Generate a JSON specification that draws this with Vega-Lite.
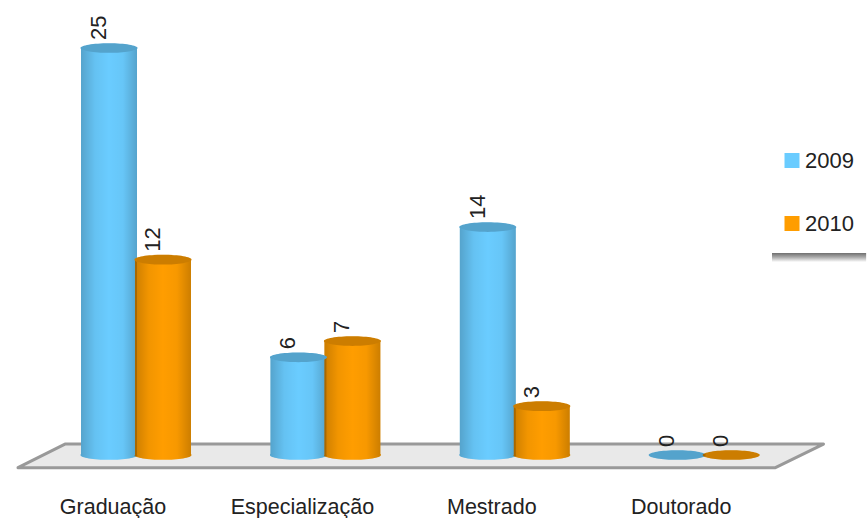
{"$schema":"https://vega.github.io/schema/vega-lite/v6.json","width":867,"height":480,"autosize":{"type":"pad"},"padding":0,"background":"white","config":{"view":{"stroke":null},"font":"Liberation Sans"},
"datasets":{"bars":[{"nivel":"Graduação","ano":"2009","valor":25},{"nivel":"Graduação","ano":"2010","valor":12},{"nivel":"Especialização","ano":"2009","valor":6},{"nivel":"Especialização","ano":"2010","valor":7},{"nivel":"Mestrado","ano":"2009","valor":14},{"nivel":"Mestrado","ano":"2010","valor":3},{"nivel":"Doutorado","ano":"2009","valor":0},{"nivel":"Doutorado","ano":"2010","valor":0}],
"floor":[{"u":-0.623,"top":-0.78,"bottom":-0.78},{"u":-0.375,"top":0.67,"bottom":-0.78},{"u":3.376,"top":0.67,"bottom":-0.78},{"u":3.63,"top":0.67,"bottom":0.67}],
"shadow":[{"u":3.358,"u2":3.855,"top":12.41,"bottom":11.85}]},
"layer":[
{"data":{"name":"floor"},"mark":{"type":"area","fill":"#e9e9e9","stroke":"#999999","strokeWidth":3,"strokeJoin":"round"},"encoding":{"x":{"field":"u","type":"quantitative","axis":null,"scale":{"domain":[0,3],"range":[136,704.2],"nice":false,"zero":false}},"y":{"field":"top","type":"quantitative","axis":null,"scale":{"domain":[0,25],"range":[455,48],"nice":false,"zero":false}},"y2":{"field":"bottom"}}},
{"data":{"name":"shadow"},"mark":{"type":"rect","fill":{"gradient":"linear","x1":0,"y1":0,"x2":0,"y2":1,"stops":[{"offset":0,"color":"#6e6e6e"},{"offset":0.45,"color":"#a8a8a8"},{"offset":1,"color":"#ffffff"}]}},"encoding":{"x":{"field":"u","type":"quantitative","axis":null,"scale":{"domain":[0,3],"range":[136,704.2],"nice":false,"zero":false}},"x2":{"field":"u2"},"y":{"field":"top","type":"quantitative","axis":null,"scale":{"domain":[0,25],"range":[455,48],"nice":false,"zero":false}},"y2":{"field":"bottom"}}},
{"data":{"name":"bars"},
"encoding":{"x":{"field":"nivel","type":"nominal","sort":null,"scale":{"domain":["Graduação","Especialização","Mestrado","Doutorado"],"range":[41.3,798.9],"paddingInner":0.43,"paddingOuter":0.215},"axis":{"title":null,"domain":false,"ticks":false,"labelAngle":0,"labelFontSize":21.5,"labelColor":"#222222","labelPadding":16,"labelOffset":-23,"labelFont":"Liberation Sans"}},"xOffset":{"field":"ano","type":"nominal","scale":{"domain":["2009","2010"]}},"y":{"field":"valor","type":"quantitative","axis":null,"scale":{"domain":[0,25],"range":[455,48],"nice":false,"zero":false}}},
"layer":[
{"transform":[{"filter":"datum.valor > 0"}],"mark":{"type":"point","filled":true,"opacity":1,"shape":"M-1,0A1,0.17,0,1,1,1,0A1,0.17,0,1,1,-1,0Z","size":3249},"encoding":{"y":{"datum":0,"type":"quantitative"},"color":{"field":"ano","type":"nominal","scale":{"domain":["2009","2010"],"range":["#6accff","#ff9d00"]},"legend":{"title":null,"orient":"none","legendX":771,"legendY":139.5,"padding":10,"symbolType":"square","symbolSize":225,"symbolStrokeWidth":0,"symbolOpacity":1,"rowPadding":41,"labelOffset":2,"labelFontSize":22,"labelColor":"#222222","labelFont":"Liberation Sans"}}}},
{"transform":[{"filter":"datum.valor > 0"}],"mark":{"type":"point","filled":true,"opacity":1,"shape":"M-1,0A1,0.17,0,1,1,1,0A1,0.17,0,1,1,-1,0Z","size":3249,"fill":{"gradient":"linear","x1":0,"y1":0,"x2":1,"y2":0,"stops":[{"offset":0,"color":"rgba(0,0,0,0.2)"},{"offset":0.25,"color":"rgba(0,0,0,0.05)"},{"offset":0.5,"color":"rgba(0,0,0,0)"},{"offset":0.75,"color":"rgba(0,0,0,0.03)"},{"offset":1,"color":"rgba(0,0,0,0.2)"}]}},"encoding":{"y":{"datum":0,"type":"quantitative"}}},
{"mark":{"type":"bar","width":56},"encoding":{"y2":{"datum":0},"color":{"field":"ano","type":"nominal"}}},
{"mark":{"type":"bar","width":56,"fill":{"gradient":"linear","x1":0,"y1":0,"x2":1,"y2":0,"stops":[{"offset":0,"color":"rgba(0,0,0,0.2)"},{"offset":0.25,"color":"rgba(0,0,0,0.05)"},{"offset":0.5,"color":"rgba(0,0,0,0)"},{"offset":0.75,"color":"rgba(0,0,0,0.03)"},{"offset":1,"color":"rgba(0,0,0,0.2)"}]}},"encoding":{"y2":{"datum":0}}},
{"mark":{"type":"point","filled":true,"opacity":1,"shape":"M-1,0A1,0.17,0,1,1,1,0A1,0.17,0,1,1,-1,0Z","size":3249},"encoding":{"color":{"field":"ano","type":"nominal"}}},
{"mark":{"type":"point","filled":true,"fill":"#000000","opacity":0.2,"shape":"M-1,0A1,0.17,0,1,1,1,0A1,0.17,0,1,1,-1,0Z","size":3249}},
{"mark":{"type":"text","angle":270,"align":"left","baseline":"middle","dx":8,"dy":-10,"fontSize":22,"color":"#222222","font":"Liberation Sans"},"encoding":{"text":{"field":"valor","type":"quantitative"}}}
]}
],
"resolve":{"scale":{"x":"independent"}}}
